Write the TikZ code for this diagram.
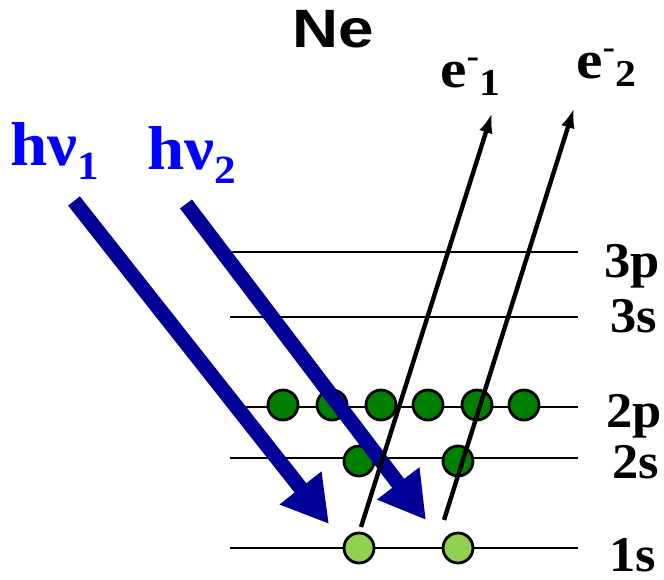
\documentclass[tikz,border=0pt]{standalone}
\usepackage{fontspec}
\setmainfont{Liberation Serif}
\setsansfont{Liberation Sans}
\usetikzlibrary{arrows.meta}
\definecolor{navyarrow}{RGB}{0,0,150}
\definecolor{textblue}{RGB}{0,0,255}
\definecolor{darkgr}{RGB}{0,128,0}
\definecolor{lightgr}{RGB}{146,208,80}
\tikzset{
  level/.style={line width=2.8pt},
  elec/.style={circle, draw=black, line width=2.8pt, minimum size=30pt, inner sep=0pt},
  outer/.style={elec, fill=darkgr},
  core/.style={elec, fill=lightgr},
  photon/.style={navyarrow, line width=15pt, -{Triangle[length=46pt,width=50pt]}},
  ejected/.style={line width=4.4pt, -{Latex[length=20pt,width=14pt]}},
  lvlabel/.style={font=\fontsize{50}{50}\selectfont\bfseries, inner sep=0pt, anchor=base, xscale=1.05},
  hvlabel/.style={font=\fontsize{62}{62}\selectfont\bfseries, text=textblue, inner sep=0pt, anchor=base west, xscale=1.08},
  elabel/.style={font=\fontsize{54}{54}\selectfont\bfseries, inner sep=0pt, anchor=base west, xscale=1.1}
}
\begin{document}
\begin{tikzpicture}[x=1pt,y=-1pt]
\useasboundingbox (0,0) rectangle (664,579);
% level lines
\foreach \n/\y in {3p/252,3s/317,2p/407,2s/458,1s/548}{
  \coordinate (L\n) at (230,\y);
  \coordinate (R\n) at (578,\y);
  \draw[level] (L\n) -- (R\n);
}
% electrons
\foreach \i/\x in {1/283,2/332,3/381,4/428,5/477,6/524}{
  \node[outer] (p\i) at (\x,405) {};
}
\node[outer] (s2a) at (359,461) {};
\node[outer] (s2b) at (458,461) {};
\node[core] (s1a) at (359,548) {};
\node[core] (s1b) at (458,548) {};
% photons
\coordinate (h1s) at (74,201);
\coordinate (h1e) at (329,524);
\coordinate (h2s) at (186,204);
\coordinate (h2e) at (426,520);
\draw[photon] (h1s) -- (h1e);
\draw[photon] (h2s) -- (h2e);
% ejected electrons
\coordinate (e1s) at (361,527);
\coordinate (e1e) at (492,113);
\coordinate (e2s) at (444,520);
\coordinate (e2e) at (574,108);
\draw[ejected] (e1s) -- (e1e);
\draw[ejected] (e2s) -- (e2e);
% labels
\node[font=\sffamily\bfseries\fontsize{54}{54}\selectfont, inner sep=0pt, anchor=base, xscale=1.18] (ne) at (333,47) {Ne};
\node[hvlabel] (hv1) at (10,165) {hν\raisebox{-14pt}{\fontsize{40}{40}\selectfont 1}};
\node[hvlabel] (hv2) at (147,169) {hν\raisebox{-14pt}{\fontsize{40}{40}\selectfont 2}};
\node[elabel] (el1) at (440,87) {e\raisebox{20pt}{\fontsize{34}{34}\selectfont -}\raisebox{-8pt}{\fontsize{38}{38}\selectfont 1}};
\node[elabel] (el2) at (576,78) {e\raisebox{20pt}{\fontsize{34}{34}\selectfont -}\raisebox{-8pt}{\fontsize{38}{38}\selectfont 2}};
\node[lvlabel] (t3p) at (632,277) {3p};
\node[lvlabel] (t3s) at (634,332) {3s};
\node[lvlabel] (t2p) at (634,427) {2p};
\node[lvlabel] (t2s) at (636,478) {2s};
\node[lvlabel] (t1s) at (633,571) {1s};
\end{tikzpicture}
\end{document}
